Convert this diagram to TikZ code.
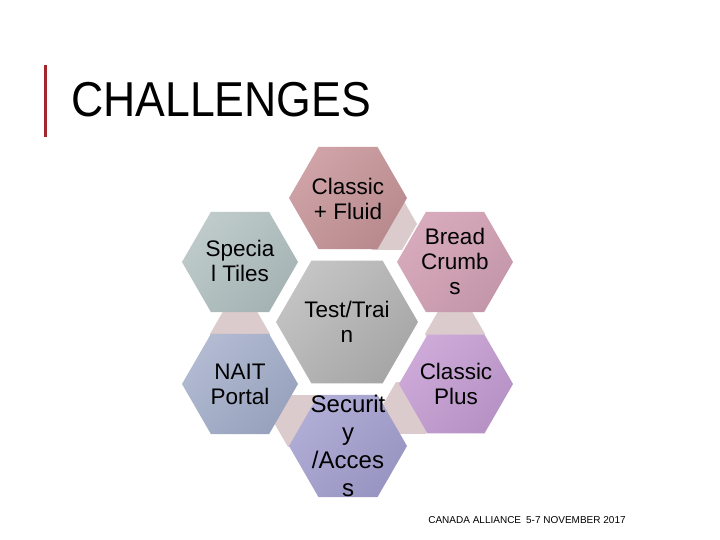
\documentclass[tikz,border=0pt]{standalone}
\usepackage{fontspec}
\setmainfont{Liberation Sans}
\definecolor{cfA}{HTML}{CFA3A7}\definecolor{cfB}{HTML}{B88A8E}
\definecolor{stA}{HTML}{BFCBCB}\definecolor{stB}{HTML}{A5B3B4}
\definecolor{ttA}{HTML}{C4C4C4}\definecolor{ttB}{HTML}{A6A6A6}
\definecolor{bcA}{HTML}{D8ABBC}\definecolor{bcB}{HTML}{C496A9}
\definecolor{naA}{HTML}{B2BBD2}\definecolor{naB}{HTML}{98A2BD}
\definecolor{cpA}{HTML}{CDAAD8}\definecolor{cpB}{HTML}{B692C5}
\definecolor{seA}{HTML}{B0ADD6}\definecolor{seB}{HTML}{9895C2}
\definecolor{bandc}{HTML}{DBCBCD}
\definecolor{barred}{HTML}{A3262A}
\begin{document}
\begin{tikzpicture}[x=1pt,y=-1pt,
  hexsh/.style 2 args={top color=#1, bottom color=#2, shading angle=45},
  band/.style={fill=bandc, draw=none},
  lbl/.style={align=center, inner sep=0pt, font=\fontsize{22.5}{25}\selectfont},
  redbar/.style={draw=barred, line width=3pt}]
\useasboundingbox (0,0) rectangle (720,540);
\fill[white] (0,0) rectangle (720,540);
% title
\draw[redbar] (45,65) -- (45,137);
\node[anchor=base west, inner sep=0pt, font=\fontsize{49}{55}\selectfont] (title) at (71,117) {\scalebox{0.91}[1]{CHALLENGES}};
% connector bands (small hexagons behind)
\fill[band, shift={(387,224)}] (0:30) -- (60:30) -- (120:30) -- (180:30) -- (240:30) -- (300:30) -- cycle;
\fill[band, shift={(455,334)}] (0:30) -- (60:30) -- (120:30) -- (180:30) -- (240:30) -- (300:30) -- cycle;
\fill[band, shift={(411,408)}] (0:30) -- (60:30) -- (120:30) -- (180:30) -- (240:30) -- (300:30) -- cycle;
\fill[band, shift={(303,421)}] (0:30) -- (60:30) -- (120:30) -- (180:30) -- (240:30) -- (300:30) -- cycle;
\fill[band, shift={(240,334)}] (0:30) -- (60:30) -- (120:30) -- (180:30) -- (240:30) -- (300:30) -- cycle;
% hexagons
\shade[hexsh={cfA}{cfB}, shift={(348,198)}] (0:59) -- (60:59) -- (120:59) -- (180:59) -- (240:59) -- (300:59) -- cycle;
\shade[hexsh={stA}{stB}, shift={(240,262)}] (0:58) -- (60:58) -- (120:58) -- (180:58) -- (240:58) -- (300:58) -- cycle;
\shade[hexsh={ttA}{ttB}, shift={(347,322)}] (0:71) -- (60:71) -- (120:71) -- (180:71) -- (240:71) -- (300:71) -- cycle;
\shade[hexsh={bcA}{bcB}, shift={(455,262)}] (0:58) -- (60:58) -- (120:58) -- (180:58) -- (240:58) -- (300:58) -- cycle;
\shade[hexsh={naA}{naB}, shift={(240,384)}] (0:58) -- (60:58) -- (120:58) -- (180:58) -- (240:58) -- (300:58) -- cycle;
\shade[hexsh={cpA}{cpB}, shift={(456,384)}] (0:57) -- (60:57) -- (120:57) -- (180:57) -- (240:57) -- (300:57) -- cycle;
\shade[hexsh={seA}{seB}, shift={(348,446)}] (0:59) -- (60:59) -- (120:59) -- (180:59) -- (240:59) -- (300:59) -- cycle;
% labels
\node[lbl] (tcf) at (348,199) {Classic\\+ Fluid};
\node[lbl] (tst) at (240,261) {Specia\\l Tiles};
\node[lbl] (ttt) at (347,322) {Test/Trai\\n};
\node[lbl] (tbc) at (455,261) {Bread\\Crumb\\s};
\node[lbl] (tna) at (240,384) {NAIT\\Portal};
\node[lbl] (tcp) at (456,384) {Classic\\Plus};
\node[lbl, font=\fontsize{24}{28}\selectfont] (tse) at (348,446) {Securit\\y\\/Acces\\s};
% footer
\node[inner sep=0pt, font=\fontsize{10}{11}\selectfont] (foot) at (527,520) {CANADA ALLIANCE\enspace 5-7 NOVEMBER 2017};
\end{tikzpicture}
\end{document}
